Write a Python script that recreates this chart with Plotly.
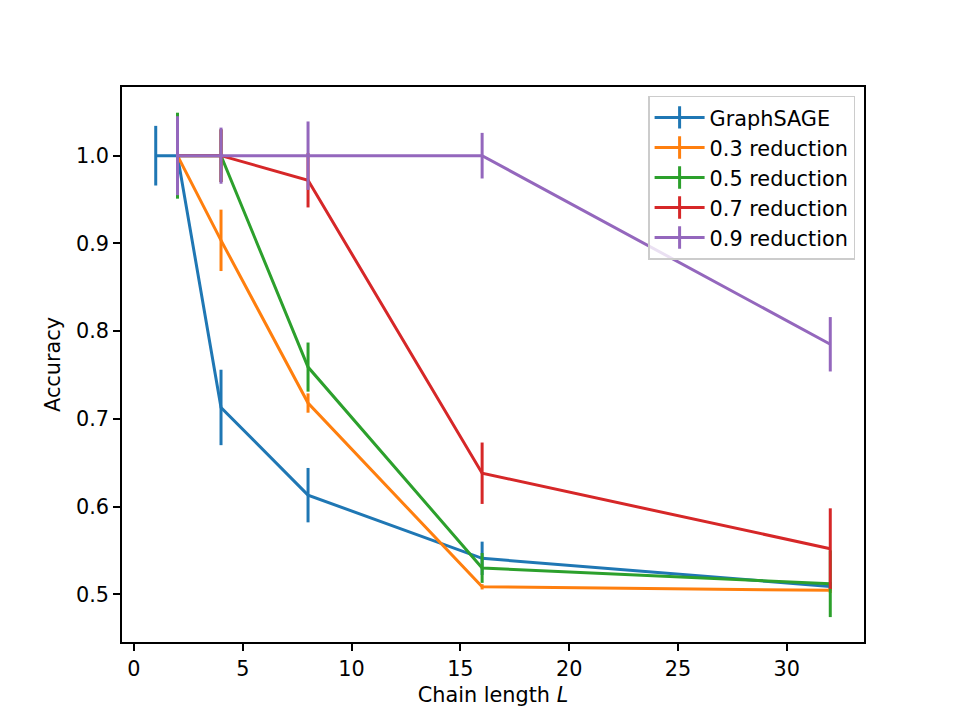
import plotly.graph_objects as go

# chain lengths and mean accuracies / std
L_base = [1, 2, 4, 8, 16, 32]
L_red = [2, 4, 8, 16, 32]

acc_graphsage = [1.0, 1.0, 0.713, 0.613, 0.541, 0.509]
err_graphsage = [0.034, 0.03, 0.043, 0.031, 0.019, 0.005]

acc_03 = [1.0, 0.9035, 0.718, 0.5085, 0.5045]
err_03 = [0.03, 0.035, 0.011, 0.003, 0.003]

acc_05 = [1.0, 1.0, 0.759, 0.530, 0.512]
err_05 = [0.049, 0.03, 0.028, 0.017, 0.038]

acc_07 = [1.0, 1.0, 0.972, 0.638, 0.552]
err_07 = [0.03, 0.03, 0.031, 0.035, 0.046]

acc_09 = [1.0, 1.0, 1.0, 1.0, 0.785]
err_09 = [0.045, 0.032, 0.039, 0.026, 0.031]

series = [
    ("GraphSAGE", L_base, acc_graphsage, err_graphsage, "#1f77b4"),
    ("0.3 reduction", L_red, acc_03, err_03, "#ff7f0e"),
    ("0.5 reduction", L_red, acc_05, err_05, "#2ca02c"),
    ("0.7 reduction", L_red, acc_07, err_07, "#d62728"),
    ("0.9 reduction", L_red, acc_09, err_09, "#9467bd"),
]

FONT = "DejaVu Sans"
FS = 20.8

fig = go.Figure()
for name, xs, ys, es, c in series:
    fig.add_trace(go.Scatter(
        x=xs, y=ys, mode="lines", name=name, showlegend=False,
        line=dict(color=c, width=3),
        error_y=dict(type="data", array=es, symmetric=True, width=0,
                     thickness=3, color=c),
    ))

# legend entries drawn as line + vertical tick, like matplotlib errorbar handles
for name, xs, ys, es, c in series:
    fig.add_trace(go.Scatter(
        x=[None], y=[None], mode="lines+markers", name=name, legendgroup=name,
        line=dict(color=c, width=3),
        marker=dict(symbol="line-ns", size=20, color=c, line=dict(width=3, color=c)),
    ))

fig.update_layout(
    width=960, height=720,
    margin=dict(l=114, r=104, t=79, b=86),
    paper_bgcolor="white", plot_bgcolor="white",
    font=dict(family=FONT, size=FS, color="black"),
    legend=dict(
        x=0.988, y=0.984, xanchor="right", yanchor="top",
        bgcolor="rgba(255,255,255,0.8)", bordercolor="#cccccc", borderwidth=1.5,
        font=dict(family=FONT, size=FS, color="black"),
        tracegroupgap=0, itemwidth=50,
    ),
)
fig.update_xaxes(
    range=[-0.55, 33.55], tickvals=[0, 5, 10, 15, 20, 25, 30],
    showgrid=False, zeroline=False,
    showline=True, linecolor="black", linewidth=1.6, mirror=True,
    ticks="outside", ticklen=7, tickwidth=1.6, tickcolor="black",
    title=dict(text="Chain length <i>L</i>", standoff=8,
               font=dict(family=FONT, size=FS)),
)
fig.update_yaxes(
    range=[0.4456, 1.0783], tickvals=[0.5, 0.6, 0.7, 0.8, 0.9, 1.0],
    tickformat=".1f",
    showgrid=False, zeroline=False,
    showline=True, linecolor="black", linewidth=1.6, mirror=True,
    ticks="outside", ticklen=7, tickwidth=1.6, tickcolor="black",
    title=dict(text="Accuracy", standoff=10,
               font=dict(family=FONT, size=FS)),
)

fig.write_html("out.html")
